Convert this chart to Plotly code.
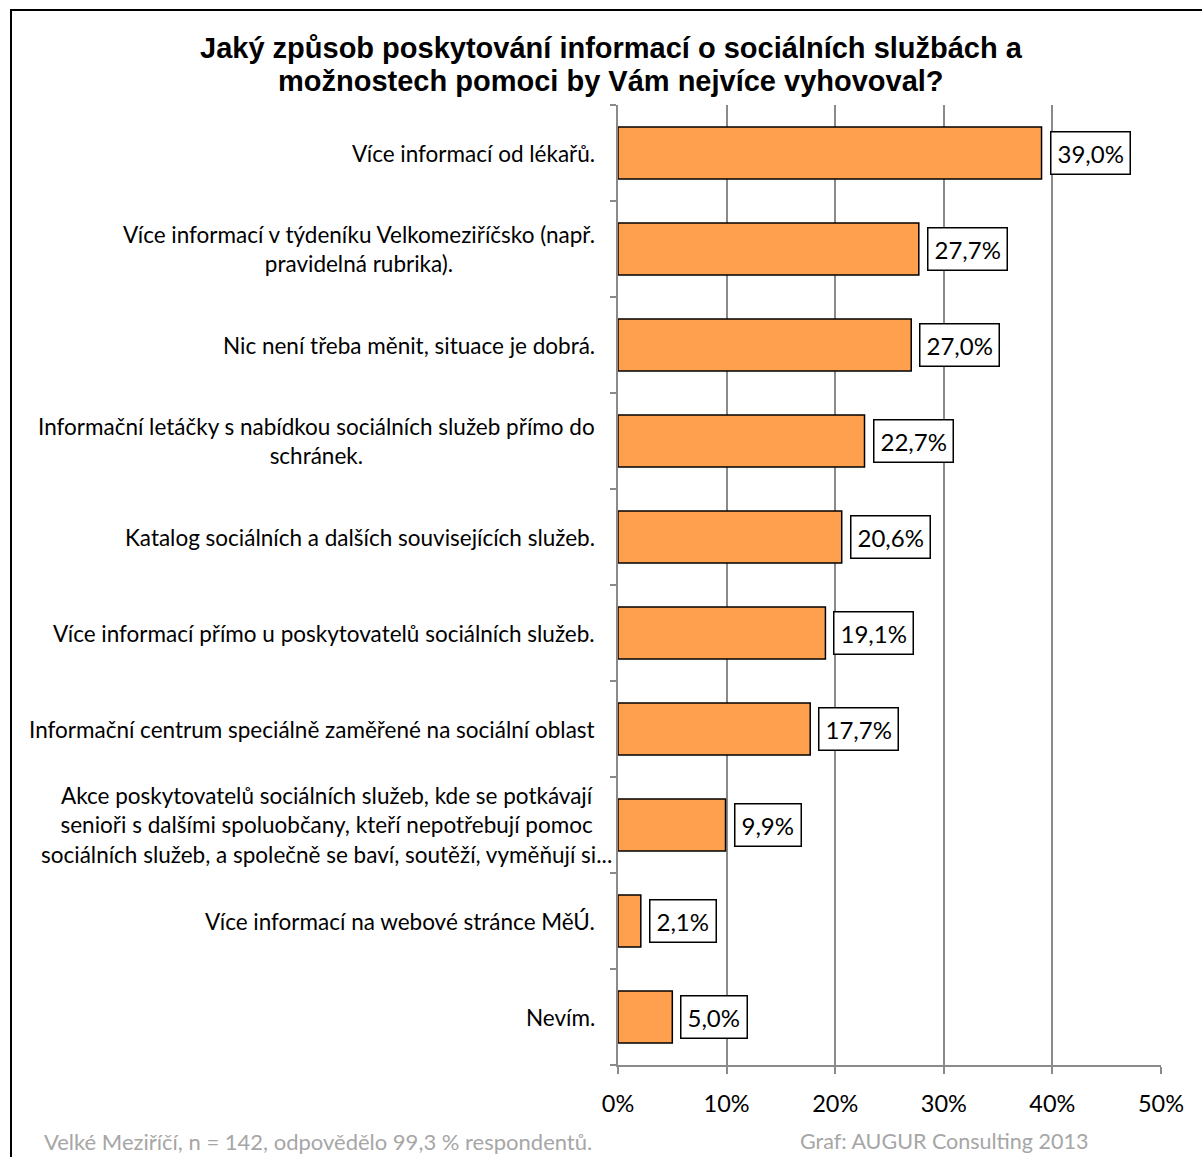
import plotly.graph_objects as go

categories = [
    "Více informací od lékařů.",
    "Více informací v týdeníku Velkomeziříčsko (např.<br>pravidelná rubrika).",
    "Nic není třeba měnit, situace je dobrá.",
    "Informační letáčky s nabídkou sociálních služeb přímo do<br>schránek.",
    "Katalog sociálních a dalších souvisejících služeb.",
    "Více informací přímo u poskytovatelů sociálních služeb.",
    "Informační centrum speciálně zaměřené na sociální oblast",
    "Akce poskytovatelů sociálních služeb, kde se potkávají<br>senioři s dalšími spoluobčany, kteří nepotřebují pomoc<br>sociálních služeb, a společně se baví, soutěží, vyměňují si...",
    "Více informací na webové stránce MěÚ.",
    "Nevím.",
]
values = [39.0, 27.7, 27.0, 22.7, 20.6, 19.1, 17.7, 9.9, 2.1, 5.0]
value_labels = ["39,0%", "27,7%", "27,0%", "22,7%", "20,6%", "19,1%", "17,7%", "9,9%", "2,1%", "5,0%"]
x_ticks = [0, 10, 20, 30, 40, 50]
x_tick_labels = ["0%", "10%", "20%", "30%", "40%", "50%"]

title_lines = ["Jaký způsob poskytování informací o sociálních službách a",
               "možnostech pomoci by Vám nejvíce vyhovoval?"]
footer_left = "Velké Meziříčí, n = 142, odpovědělo 99,3 % respondentů."
footer_right = "Graf: AUGUR Consulting 2013"

FONT = "Lato"
W, H = 1202, 1157
L, R, T, B = 618, 41, 105, 92
pw, ph = W - L - R, H - T - B

def px_x(p):
    return (p - L) / pw

def px_y(p):
    return (H - B - p) / ph

fig = go.Figure()
fig.add_trace(go.Bar(
    x=values, y=categories, orientation="h",
    marker=dict(color="#FFA04F", line=dict(color="#000000", width=1.5)),
    width=0.54, hoverinfo="skip",
))

annotations = []
for c, v, t in zip(categories, values, value_labels):
    annotations.append(dict(
        x=v, y=c, xref="x", yref="y", text=t, showarrow=False,
        xanchor="left", yanchor="middle", xshift=8,
        font=dict(family=FONT, size=24, color="#000"),
        bgcolor="#ffffff", bordercolor="#000000", borderwidth=1.5, borderpad=6,
    ))
    nlines = c.count("<br>") + 1
    annotations.append(dict(
        x=0, y=c, xref="paper", yref="y", text=c, showarrow=False,
        xanchor="right", yanchor="middle", xshift=(-4 if nlines == 3 else -21), align="center",
        font=dict(family=FONT, size=22.5, color="#000"),
    ))

for line, ypx in zip(title_lines, [48, 81]):
    annotations.append(dict(
        x=px_x(611), y=px_y(ypx), xref="paper", yref="paper", text="<b>" + line + "</b>",
        showarrow=False, xanchor="center", yanchor="middle", align="center",
        font=dict(family="Liberation Sans, Arial", size=29, color="#000"),
    ))
annotations.append(dict(
    x=px_x(42), y=px_y(1141), xref="paper", yref="paper", text=footer_left,
    showarrow=False, xanchor="left", yanchor="middle",
    font=dict(family=FONT, size=22, color="#a6a6a6"),
))
annotations.append(dict(
    x=px_x(798), y=px_y(1141), xref="paper", yref="paper", text=footer_right,
    showarrow=False, xanchor="left", yanchor="middle",
    font=dict(family=FONT, size=21.5, color="#a6a6a6"),
))

fig.update_layout(
    width=W, height=H,
    margin=dict(l=L, r=R, t=T, b=B, autoexpand=False),
    paper_bgcolor="#ffffff", plot_bgcolor="#ffffff",
    showlegend=False,
    annotations=annotations,
    shapes=[dict(type="rect", xref="paper", yref="paper",
                 x0=px_x(11), x1=px_x(1215), y0=px_y(1180), y1=px_y(10),
                 line=dict(color="#000000", width=2), fillcolor="rgba(0,0,0,0)", layer="below")],
    xaxis=dict(
        range=[0, 50], tickvals=x_ticks, ticktext=x_tick_labels,
        showgrid=True, gridcolor="#8a8a8a", gridwidth=1.5,
        showline=True, linecolor="#8a8a8a", linewidth=1.5,
        ticks="outside", ticklen=7, tickcolor="#8a8a8a", tickwidth=1.5,
        ticklabelstandoff=10,
        tickfont=dict(family=FONT, size=23.5, color="#000"),
        zeroline=False, fixedrange=True,
    ),
    yaxis=dict(
        categoryorder="array", categoryarray=categories[::-1],
        autorange=False, range=[-0.5, len(categories) - 0.5],
        showticklabels=False, showgrid=False,
        showline=True, linecolor="#8a8a8a", linewidth=1.5,
        ticks="outside", ticklen=6, tickcolor="#8a8a8a", tickwidth=1.5,
        tickson="boundaries", fixedrange=True,
    ),
)

fig.write_html("out.html")
